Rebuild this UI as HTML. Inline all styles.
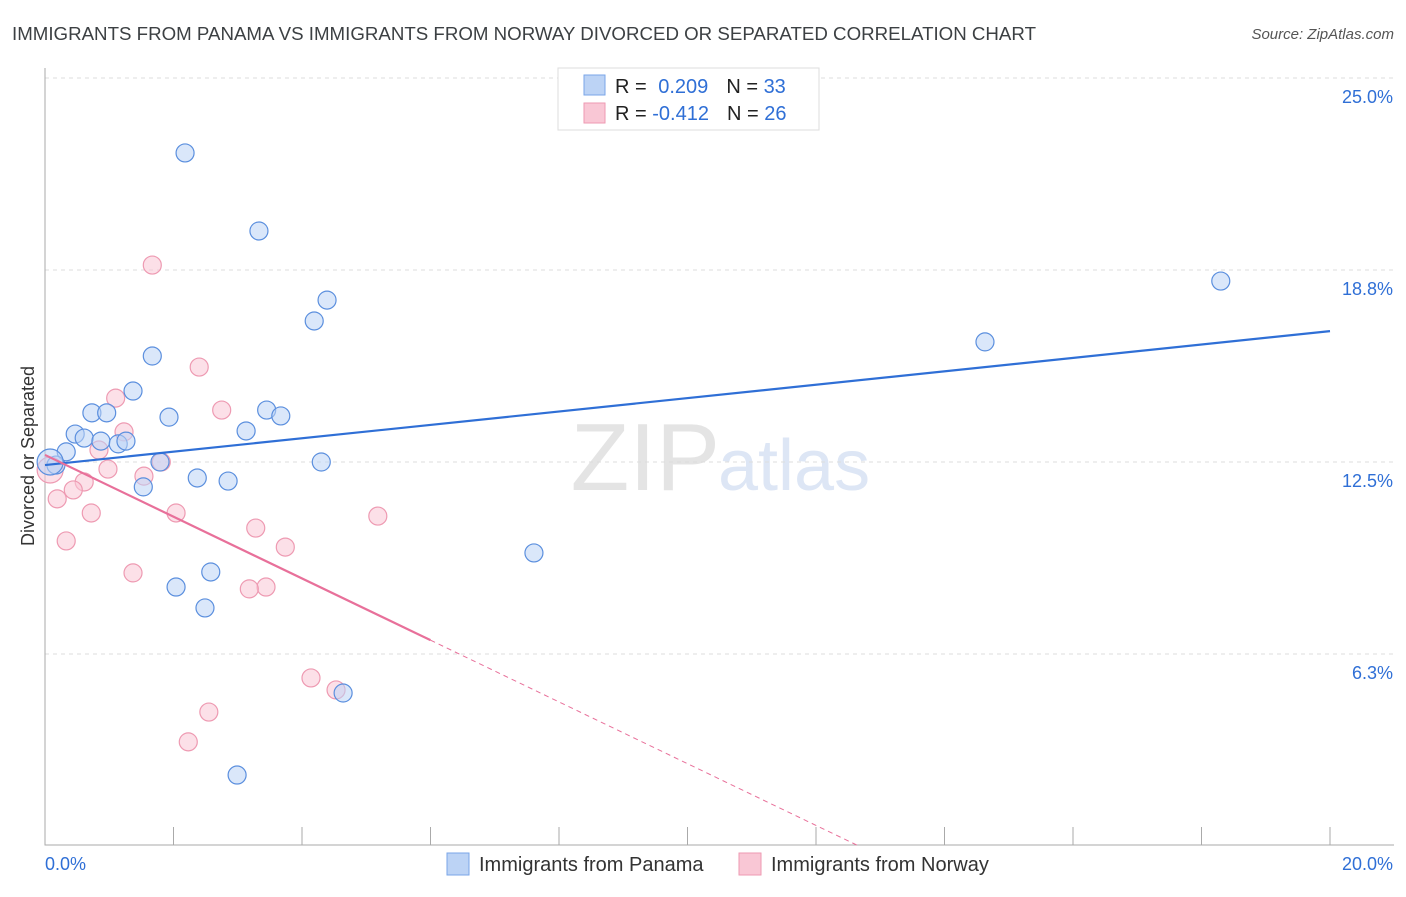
<!DOCTYPE html>
<html><head><meta charset="utf-8"><style>
body{margin:0;background:#fff;font-family:"Liberation Sans",sans-serif;}
svg text{font-family:"Liberation Sans",sans-serif;}
</style></head><body>
<svg width="1406" height="892">
<text x="12" y="40" font-size="18" fill="#3c4043" textLength="1024" lengthAdjust="spacingAndGlyphs">IMMIGRANTS FROM PANAMA VS IMMIGRANTS FROM NORWAY DIVORCED OR SEPARATED CORRELATION CHART</text>
<text x="1394" y="39" font-size="15" fill="#555" text-anchor="end" font-style="italic">Source: ZipAtlas.com</text>
<text x="720" y="490" font-size="96" fill="#e4e4e4" text-anchor="end" font-family="Liberation Serif">ZIP</text>
<text x="718" y="490" font-size="72" fill="#dde6f5">atlas</text>
<g id="grid"></g>
<g id="axes"></g>
<g id="marks"></g>
<text x="34" y="456" font-size="18" fill="#333" text-anchor="middle" transform="rotate(-90 34 456)">Divorced or Separated</text>
<g>
<rect x="558" y="68" width="261" height="62" fill="#fff" stroke="#ddd"/>
<rect x="584" y="75" width="21" height="20" fill="#bcd3f5" stroke="#7aa6e8"/>
<rect x="584" y="103" width="21" height="20" fill="#f9c7d5" stroke="#ee9ab2"/>
<text x="615" y="93" font-size="20" fill="#222">R = <tspan fill="#2f6fd6" dx="6">0.209</tspan><tspan dx="18" fill="#222">N = </tspan><tspan fill="#2f6fd6">33</tspan></text>
<text x="615" y="120" font-size="20" fill="#222">R = <tspan fill="#2f6fd6">-0.412</tspan><tspan dx="18" fill="#222">N = </tspan><tspan fill="#2f6fd6">26</tspan></text>
</g>
<g>
<rect x="447" y="853" width="22" height="22" fill="#bcd3f5" stroke="#7aa6e8"/>
<text x="479" y="871" font-size="20" fill="#333">Immigrants from Panama</text>
<rect x="739" y="853" width="22" height="22" fill="#f9c7d5" stroke="#ee9ab2"/>
<text x="771" y="871" font-size="20" fill="#333">Immigrants from Norway</text>
</g>
</svg>
<script>
const yTicks=[25,18.75,12.5,6.25];
const yTickLabels=["25.0%","18.8%","12.5%","6.3%"];
const xTicks=[0,2,4,6,8,10,12,14,16,18,20];
const xEndLabels=["0.0%","20.0%"];
const panamaX=[2.18,3.33,4.39,4.19,1.67,1.37,0.73,0.96,1.93,3.45,3.67,3.13,0.47,0.61,0.87,1.14,1.26,0.33,0.17,1.79,4.30,2.37,2.85,1.53,7.61,2.58,2.04,2.49,4.64,2.99,14.63,18.30,0.08];
const panamaY=[22.56,20.02,17.77,17.09,15.95,14.81,14.10,14.10,13.96,14.19,14.00,13.51,13.41,13.28,13.18,13.09,13.18,12.83,12.40,12.5,12.5,11.98,11.88,11.69,9.54,8.92,8.43,7.75,4.98,2.31,16.41,18.39,12.5];
const norwayX=[1.67,2.40,1.10,2.75,1.23,0.84,1.81,0.98,1.54,0.61,0.44,0.19,0.72,2.04,5.18,3.28,0.33,3.74,1.37,3.44,3.18,4.14,4.53,2.55,2.23,0.08];
const norwayY=[18.91,15.59,14.58,14.19,13.48,12.89,12.5,12.27,12.04,11.85,11.59,11.30,10.84,10.84,10.74,10.35,9.93,9.73,8.89,8.43,8.37,5.47,5.08,4.36,3.39,12.24];
const panamaTrend=[12.40,16.76];
const norwayTrend=[12.73,-1.005];
const X0=45,X1=1330,Y0=846,PPY=30.72;
const sx=v=>X0+(X1-X0)*v/20, sy=v=>Y0-v*PPY;
const NS="http://www.w3.org/2000/svg";
function mk(t,a,p){const e=document.createElementNS(NS,t);for(const k in a)e.setAttribute(k,a[k]);p.appendChild(e);return e;}
const grid=document.getElementById('grid'),axes=document.getElementById('axes'),marks=document.getElementById('marks');
yTicks.forEach((v,i)=>{
 const l=mk('line',{x1:X0,x2:1394,y1:sy(v),y2:sy(v),stroke:'#ddd','stroke-dasharray':'4 4'},grid);
 
 
 const t=mk('text',{x:1393,y:sy(v)+25,'font-size':18,fill:'#2f6fd6','text-anchor':'end'},grid);
 t.textContent=yTickLabels[i];
 
 
});
const ax=mk('path',{d:`M${X0} 68V${Y0-1}H1394`,stroke:'#aaa',fill:'none'},axes);


xTicks.forEach(v=>{
 const l=mk('line',{x1:sx(v),x2:sx(v),y1:827,y2:845,stroke:'#aaa'},axes);
 
 
});
[[0,'start',45],[20,'end',1393]].forEach((d,i)=>{
 const t=mk('text',{x:d[2],y:870,'font-size':18,fill:'#2f6fd6','text-anchor':d[1]},axes);
 t.textContent=xEndLabels[i];
 
 
});
function pts(xs,ys,fill,stroke,name){
 xs.forEach((x,i)=>{
  const big=i===xs.length-1;
  const c=mk('circle',{cx:sx(x),cy:sy(ys[i]),r:big?13:9,fill,stroke,'fill-opacity':0.55,'stroke-width':1.2},marks);
  
  
 });
}
pts(norwayX,norwayY,'#f9c7d5','#ee9ab2','norway-point');
pts(panamaX,panamaY,'#bcd3f5','#5b8fde','panama-point');
const bl=mk('line',{x1:sx(0),y1:sy(panamaTrend[0]),x2:sx(20),y2:sy(panamaTrend[1]),stroke:'#2f6fd6','stroke-width':2.2},marks);


const nEnd=6.0, nZero=-norwayTrend[0]/norwayTrend[1];
const pl=mk('line',{x1:sx(0),y1:sy(norwayTrend[0]),x2:sx(nEnd),y2:sy(norwayTrend[0]+norwayTrend[1]*nEnd),stroke:'#e8709a','stroke-width':2.2},marks);


const pd=mk('line',{x1:sx(nEnd),y1:sy(norwayTrend[0]+norwayTrend[1]*nEnd),x2:sx(nZero),y2:sy(0),stroke:'#e8709a','stroke-width':1,'stroke-dasharray':'5 4'},marks);


</script>
</body></html>
